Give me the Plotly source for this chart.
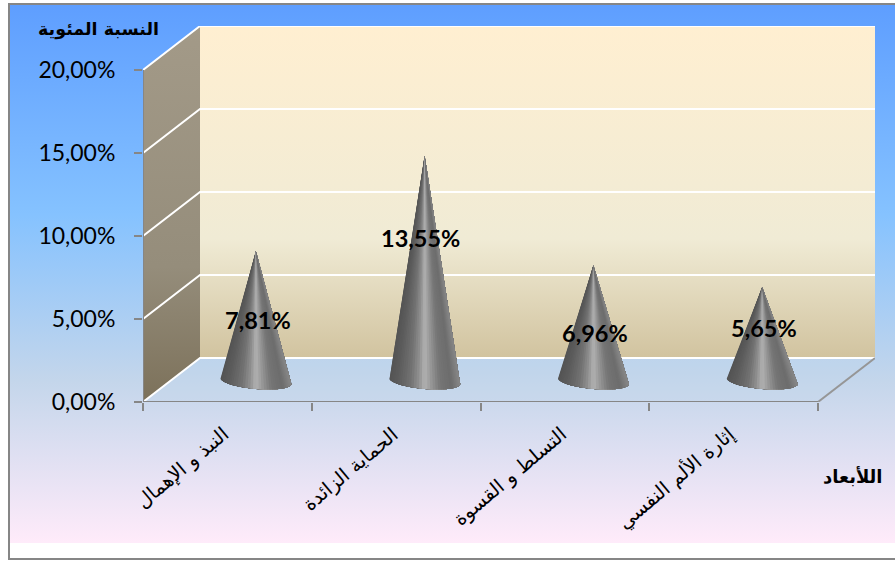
import math
import plotly.graph_objects as go

categories = ["النبذ و الإهمال", "الحماية الزائدة", "التسلط و القسوة", "إثارة الألم النفسي"]
values = [7.81, 13.55, 6.96, 5.65]
value_labels = ["7,81%", "13,55%", "6,96%", "5,65%"]
y_ticks = [0, 5, 10, 15, 20]
y_tick_labels = ["0,00%", "5,00%", "10,00%", "15,00%", "20,00%"]
y_title = "النسبة المئوية"
x_title = "اللأبعاد"

W, H = 895, 561
X0, X1, Y0, Y20 = 143.0, 818.0, 402.0, 70.0
DX, DY = 57.0, 44.0
PX_PER_CAT = (X1 - X0) / 4
PX_PER_VAL = (Y0 - Y20) / 20
depth_x = DX / PX_PER_CAT
depth_y = DY / PX_PER_VAL
XMAX = 4 + depth_x
YMAX = 20 + depth_y

fig = go.Figure()

def bg(xs, ys, **kw):
    fig.add_trace(go.Scatter(x=xs, y=ys, xaxis="x", yaxis="y", mode="lines", hoverinfo="skip", showlegend=False, **kw))

bg([9, 895, 895, 9, 9], [4, 4, 543, 543, 4], fill="toself", line=dict(width=0),
   fillgradient=dict(type="vertical", colorscale=[[0, "#FFEBFA"], [0.30, "#C4D6EB"], [0.61, "#85C2FF"], [1, "#5E9EFF"]]))

def main(xs, ys, **kw):
    kw.setdefault("mode", "lines")
    fig.add_trace(go.Scatter(x=xs, y=ys, xaxis="x2", yaxis="y2", hoverinfo="skip", showlegend=False, **kw))

PARCH = [[0, "#D1C39F"], [0.36, "#F0EBD5"], [1, "#FFEFD1"]]
SIDE = [[0, "#7C715A"], [0.36, "#958D7B"], [1, "#A39A88"]]
main([0, depth_x, depth_x, 0, 0], [0, depth_y, YMAX, 20, 0], fill="toself", line=dict(width=0),
     fillgradient=dict(type="vertical", colorscale=SIDE))
main([depth_x, XMAX, XMAX, depth_x, depth_x], [depth_y, depth_y, YMAX, YMAX, depth_y], fill="toself", line=dict(width=0),
     fillgradient=dict(type="vertical", colorscale=PARCH))
main([0, depth_x, XMAX, 4, 0], [0, depth_y, depth_y, 0, 0], fill="toself", line=dict(width=0), fillcolor="rgba(196,214,235,0.35)")
for t in y_ticks:
    main([0, depth_x, XMAX], [t, t + depth_y, t + depth_y], line=dict(color="#FFFFFF", width=2))
main([4, XMAX], [0, depth_y], line=dict(color="#969696", width=2))
main([0, 0], [0, 20], line=dict(color="#868686", width=2))
main([0, 4], [0, 0], line=dict(color="#868686", width=2))

HALF_W = 35.5 / PX_PER_CAT
TILT = 3.0 / PX_PER_VAL
DROP = 8.0 / PX_PER_VAL
BASE = 21.0 / PX_PER_VAL
N = 40
SHADE = [(0.0, 84), (0.12, 92), (0.3, 114), (0.42, 145), (0.5, 178), (0.58, 155), (0.72, 118), (0.88, 108), (1.0, 135)]

def shade(u):
    for (a, ca), (b, cb) in zip(SHADE, SHADE[1:]):
        if u <= b:
            c = round(ca + (cb - ca) * (u - a) / (b - a))
            return f"rgb({c},{c},{c})"
    return "rgb(135,135,135)"

for i, v in enumerate(values):
    cx = i + 0.5 + depth_x / 2
    for k in range(N):
        ts = [math.pi + math.pi * j / N for j in range(k, N + 1)]
        bx = [cx + HALF_W * math.cos(t) for t in ts]
        by = [BASE - TILT * math.cos(t) + DROP * math.sin(t) for t in ts]
        col = shade(0.5 - 0.5 * math.cos(math.pi * (k + 0.5) / N))
        main([cx] + bx + [cx], [BASE + v] + by + [BASE + v], fill="toself", fillcolor=col, line=dict(width=0))

annotations = []
LABEL_SHIFT = [(2, -4), (-4, 31), (2, -10), (2, 6)]
for i, (v, txt) in enumerate(zip(values, value_labels)):
    cx = i + 0.5 + depth_x / 2
    annotations.append(dict(x=cx, y=BASE + v / 2, xref="x2", yref="y2", text=f"<b>{txt}</b>", showarrow=False,
                            xshift=LABEL_SHIFT[i][0], yshift=LABEL_SHIFT[i][1],
                            font=dict(family="Lato", size=23.5, color="#000000")))
    annotations.append(dict(x=i + 0.5, y=0, xref="x2", yref="y2", text=categories[i], showarrow=False,
                            textangle=-40, xanchor="right", yanchor="top", xshift=9, yshift=-18,
                            font=dict(family="DejaVu Sans", size=19.5, color="#000000")))
annotations.append(dict(x=98 / W, y=1 - 30 / H, xref="paper", yref="paper", text=f"<b>{y_title}</b>", showarrow=False,
                        xanchor="center", yanchor="middle", font=dict(family="DejaVu Sans", size=17.5, color="#000000")))
annotations.append(dict(x=853 / W, y=1 - 476 / H, xref="paper", yref="paper", text=f"<b>{x_title}</b>", showarrow=False,
                        xanchor="center", yanchor="middle", font=dict(family="DejaVu Sans", size=18, color="#000000")))

fig.update_layout(
    width=W, height=H, margin=dict(l=0, r=0, t=0, b=0, pad=0, autoexpand=False), autosize=False,
    paper_bgcolor="#FFFFFF", plot_bgcolor="rgba(0,0,0,0)", showlegend=False,
    xaxis=dict(domain=[0, 1], range=[0, W], visible=False, fixedrange=True),
    yaxis=dict(domain=[0, 1], range=[H, 0], visible=False, fixedrange=True),
    xaxis2=dict(domain=[X0 / W, (X1 + DX) / W], range=[0, XMAX], anchor="y2", showgrid=False, zeroline=False,
                tickvals=[0, 1, 2, 3, 4], showticklabels=False, ticks="outside", ticklen=8, tickwidth=2, tickcolor="#868686",
                showline=False, fixedrange=True),
    yaxis2=dict(domain=[1 - Y0 / H, 1 - (Y20 - DY) / H], range=[0, YMAX], anchor="x2", showgrid=False, zeroline=False,
                tickvals=y_ticks, ticktext=y_tick_labels, ticks="outside", ticklen=8, tickwidth=2, tickcolor="#868686",
                showline=False, ticklabelstandoff=14, fixedrange=True, tickfont=dict(family="Lato", size=23, color="#000000")),
    annotations=annotations,
    shapes=[dict(type="rect", xref="paper", yref="paper", x0=9 / W, x1=1.01, y0=1 - 559 / H, y1=1 - 4 / H,
                 line=dict(color="#868686", width=2), fillcolor="rgba(0,0,0,0)", layer="above")],
)
fig.write_html("out.html", config={"displayModeBar": False},
               post_script="document.body.style.margin='0';document.documentElement.style.overflow='hidden';")
